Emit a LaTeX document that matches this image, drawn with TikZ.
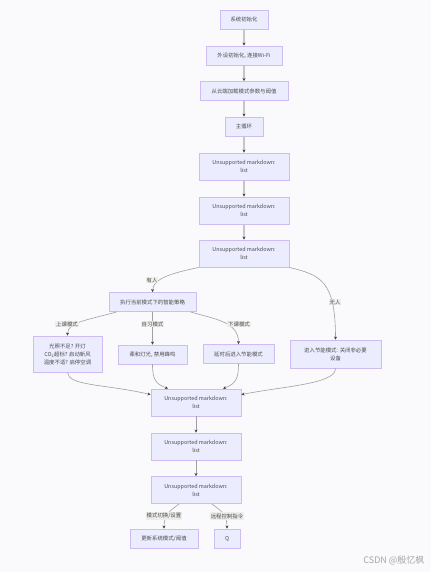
\documentclass[tikz,border=0pt]{standalone}
\usepackage{fontspec}
\setmainfont{Noto Sans CJK SC}
\usetikzlibrary{arrows.meta}
\definecolor{boxfill}{HTML}{ECECFF}
\definecolor{boxline}{HTML}{CDBDF2}
\definecolor{linkgray}{HTML}{A0A0A0}
\definecolor{linkpale}{HTML}{C6C6C6}
\definecolor{labelfill}{HTML}{EDEDEA}
\definecolor{pagefill}{HTML}{FAFAFD}
\tikzset{
  box/.style={draw=boxline, fill=boxfill, line width=0.9pt, text=black!70, font=\fontsize{5.4}{8}\selectfont, align=center, inner sep=0pt},
  link/.style={draw=linkgray, line width=0.6pt, ->},
  widelink/.style={draw=linkpale, line width=1.2pt, ->},
  tag/.style={fill=labelfill, text=black!70, font=\fontsize{5.4}{7}\selectfont, inner sep=1pt}
}
\begin{document}
\begin{tikzpicture}[x=1pt,y=-1pt,>={Stealth[length=3pt,width=3pt,color=black!75]}]
      \useasboundingbox (0,0) rectangle (431,572);
      \fill[pagefill] (0,0) rectangle (431,572);

      % upper chain
      \node[box, minimum width=48pt, minimum height=19pt] (init) at (244,19.5) {系统初始化};
      \node[box, minimum width=76pt, minimum height=19pt] (periph) at (244,55.5) {外设初始化, 连接Wi-Fi};
      \node[box, minimum width=88pt, minimum height=19pt] (cloud) at (244,91) {从云端加载模式参数与阈值};
      \node[box, minimum width=38pt, minimum height=19pt] (mainloop) at (244,126.5) {主循环};
      \node[box, minimum width=90pt, minimum height=27pt] (listA) at (244,166.5) {Unsupported markdown:\\list};
      \node[box, minimum width=90pt, minimum height=27pt] (listB) at (244,210.5) {Unsupported markdown:\\list};
      \node[box, minimum width=90pt, minimum height=27pt] (listC) at (244,253.5) {Unsupported markdown:\\list};

      % branches
      \node[box, minimum width=87pt, minimum height=19pt] (policy) at (152.5,302) {执行当前模式下的智能策略};
      \node[box, minimum width=69pt, minimum height=36pt] (lesson) at (67.5,354) {光照不足? 开灯\\CO\textsubscript{2}超标? 启动新风\\温度不适? 启停空调};
      \node[box, minimum width=69pt, minimum height=19pt] (study) at (152.5,354.5) {柔和灯光, 禁用蜂鸣};
      \node[box, minimum width=71pt, minimum height=19pt] (after) at (238.5,354) {延时后进入节能模式};
      \node[box, minimum width=91pt, minimum height=28pt] (saving) at (335.5,354) {进入节能模式: 关闭非必要\\设备};

      % lower chain
      \node[box, minimum width=90pt, minimum height=27pt] (listD) at (196,402.5) {Unsupported markdown:\\list};
      \node[box, minimum width=90pt, minimum height=27pt] (listE) at (196,446.5) {Unsupported markdown:\\list};
      \node[box, minimum width=90pt, minimum height=27pt] (listF) at (196,490) {Unsupported markdown:\\list};
      \node[box, minimum width=68pt, minimum height=19pt] (update) at (164,538.5) {更新系统模式/阈值};
      \node[box, minimum width=26pt, minimum height=19pt] (reply) at (227,538.5) {Q};

      \draw[widelink] (init) -- (periph);
      \draw[widelink] (periph) -- (cloud);
      \draw[widelink] (cloud) -- (mainloop);
      \draw[widelink] (mainloop) -- (listA);
      \draw[widelink] (listA) -- (listB);
      \draw[widelink] (listB) -- (listC);

      \draw[link] (listC.south west) .. controls (178,272) and (153,277) .. (policy.north);
      \draw[link] (listC.south east) .. controls (320,275) and (335.5,280) .. (saving.north);
      \draw[link] ([xshift=8pt]policy.south west) .. controls (88,320) and (67.5,322) .. (lesson.north);
      \draw[link] (policy.south) -- (study.north);
      \draw[link] ([xshift=-6pt]policy.south east) .. controls (215,319) and (238.5,322) .. (after.north);

      \draw[link] (lesson.south) .. controls (68,386) and (105,384) .. ([yshift=-6pt]listD.north west);
      \draw[link] (study.south) .. controls (152.5,380) and (156,384) .. ([xshift=-28pt]listD.north);
      \draw[link] (after.south) .. controls (238.5,378) and (236,384) .. ([xshift=27pt]listD.north);
      \draw[link] (saving.south) .. controls (335.5,384) and (285,386) .. ([yshift=-6pt]listD.north east);

      \draw[link] (listD) -- (listE);
      \draw[link] (listE) -- (listF);
      \draw[link] ([xshift=-17pt]listF.south) .. controls (170,511) and (164,514) .. (update.north);
      \draw[link] ([xshift=16pt]listF.south) .. controls (221,511) and (227,514) .. (reply.north);

      % edge labels
      \node[tag] (tagHuman) at (152,280) {有人};
      \node[tag] (tagEmpty) at (335,302) {无人};
      \node[tag] (tagLesson) at (67,324) {上课模式};
      \node[tag] (tagStudy) at (152.5,324) {自习模式};
      \node[tag] (tagAfter) at (239,324) {下课模式};
      \node[tag] (tagSet) at (164,516) {模式切换/设置};
      \node[tag] (tagRemote) at (227,516) {远程控制指令};

      \node[text=black!35, font=\fontsize{9}{10}\selectfont, anchor=east] (mark) at (428,560) {CSDN @殷忆枫};
    \end{tikzpicture}
\end{document}
